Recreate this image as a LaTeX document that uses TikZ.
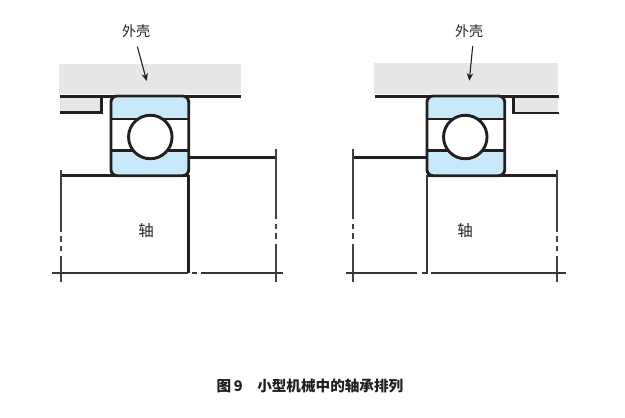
\documentclass[tikz,border=0pt]{standalone}
\usepackage{fontspec}
\setmainfont{Noto Sans CJK SC}
\usetikzlibrary{arrows.meta}
\definecolor{ink}{HTML}{231F20}
\definecolor{housing}{HTML}{E6E7E8}
\definecolor{race}{HTML}{C8E9FA}
\tikzset{
  heavy/.style={draw=ink,line width=2.9pt},
  medium/.style={draw=ink!90,line width=2.1pt},
  light/.style={draw=ink!85,line width=1.8pt},
  label/.style={font=\fontsize{14}{14}\selectfont,text=ink,inner sep=0pt},
  bigger/.style={font=\fontsize{15.5}{16}\selectfont,text=ink,inner sep=0pt},
  caption/.style={font=\fontsize{14.6}{15}\bfseries\selectfont,text=ink,inner sep=0pt},
  pointer/.style={draw=ink,line width=1.1pt,-{Stealth[length=7.5pt,width=6.5pt]}},
  housingfill/.style={fill=housing,draw=none},
}
% #1 left edge x, #2 ball centre x, #3 right edge x
\newcommand{\bearingat}[4]{%
  \fill[white,rounded corners=6pt] (#1,96) rectangle (#3,175.7);
  \begin{scope}
    \clip[rounded corners=6pt] (#1,96) rectangle (#3,175.7);
    \fill[race] (#1,96) rectangle (#3,119);
    \fill[race] (#1,150.7) rectangle (#3,175.7);
  \end{scope}
  \draw[heavy] (#1,119) -- (#3,119);
  \draw[heavy] (#1,150.7) -- (#3,150.7);
  \draw[heavy,rounded corners=6pt] (#1,96) rectangle (#3,175.7);
  \node[circle,draw=ink,line width=2.9pt,fill=white,minimum size=43.5pt,inner sep=0pt] (#4) at (#2,137) {};
}
\begin{document}
\begin{tikzpicture}[x=1pt,y=-1pt]
\useasboundingbox (0,0) rectangle (625,418);
% ---------- left arrangement
\fill[housingfill] (59,64) rectangle (240.5,94);
\fill[housingfill] (60,97) rectangle (101,112);
\draw[heavy] (60,96.3) -- (241,96.3);
\draw[heavy] (60,112.7) -- (101.7,112.7) -- (101.7,96.3);
\draw[heavy] (188.7,157.3) -- (276,157.3);
\draw[heavy] (61,175.7) -- (188.7,175.7);
\draw[heavy] (188.7,175) -- (188.7,272.7);
\bearingat{111}{150.3}{188.7}{ballL}
\draw[light] (61.3,170) -- (61.3,231.7) (61.3,236) -- (61.3,241.7) (61.3,246) -- (61.3,251) (61.3,256) -- (61.3,281.7);
\draw[light] (276,149.3) -- (276,219.3) (276,224) -- (276,229.3) (276,233.3) -- (276,239) (276,244) -- (276,281.7);
\draw[medium] (52.3,272.7) -- (188,272.7) (191.7,272.7) -- (197,272.7) (201.3,272.7) -- (283.3,272.7);
\node[label] (shellL) at (136,31.5) {外壳};
\node[bigger] (shaftL) at (146,231) {轴};
\coordinate (tipL) at (146.7,81);
\draw[pointer] ([xshift=1.3pt,yshift=-8.3pt]shellL.south) -- (tipL);
% ---------- right arrangement
\fill[housingfill] (374,63) rectangle (558.3,93.5);
\fill[housingfill] (515,98) rectangle (558,112);
\draw[heavy] (374.7,96.3) -- (558.5,96.3);
\draw[heavy] (558.5,113) -- (513.3,113) -- (513.3,96.3);
\draw[heavy] (352.7,157.3) -- (427,157.3);
\draw[heavy] (427,175.7) -- (556.7,175.7);
\draw[medium] (427,175) -- (427,272.7) -- (424,272.7);
\bearingat{427}{465.3}{504.7}{ballR}
\draw[light] (352.7,149.3) -- (352.7,219.3) (352.7,224) -- (352.7,229.3) (352.7,233.3) -- (352.7,239) (352.7,244) -- (352.7,281.7);
\draw[light] (556.7,170) -- (556.7,231.7) (556.7,236) -- (556.7,241.7) (556.7,246) -- (556.7,251) (556.7,256) -- (556.7,281.7);
\draw[medium] (346,272.7) -- (416.7,272.7) (421.7,272.7) -- (427,272.7) (431,272.7) -- (566,272.7);
\node[label] (shellR) at (469,31) {外壳};
\node[bigger] (shaftR) at (465,231) {轴};
\coordinate (tipR) at (469.3,80.7);
\draw[pointer] ([xshift=3.7pt,yshift=-8.3pt]shellR.south) -- (tipR);
% ---------- caption
\node[caption] (cap) at (310,386) {图\,9\hspace{1em}小型机械中的轴承排列};
\end{tikzpicture}
\end{document}
